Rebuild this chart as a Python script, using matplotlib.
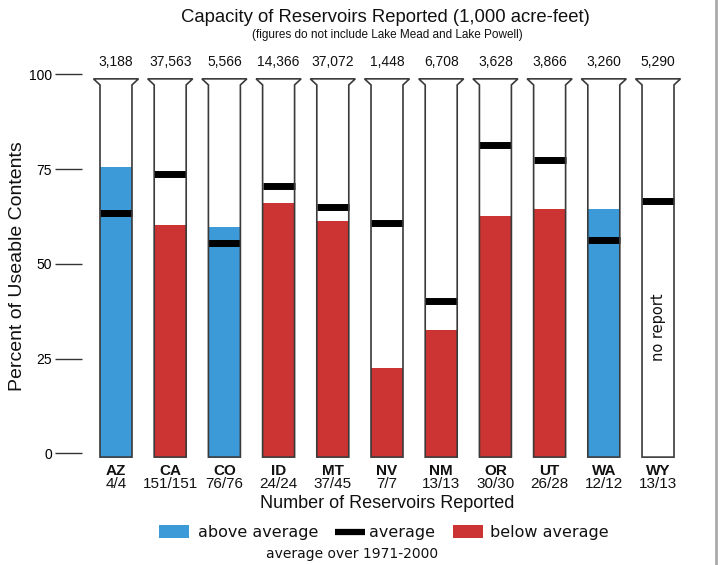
import matplotlib
matplotlib.use('Agg')
import matplotlib.pyplot as plt
from matplotlib.patches import Polygon, Rectangle
from matplotlib.lines import Line2D

# ---- data ----
states = ['AZ', 'CA', 'CO', 'ID', 'MT', 'NV', 'NM', 'OR', 'UT', 'WA', 'WY']
reservoirs = ['4/4', '151/151', '76/76', '24/24', '37/45', '7/7', '13/13',
              '30/30', '26/28', '12/12', '13/13']
capacity = ['3,188', '37,563', '5,566', '14,366', '37,072', '1,448', '6,708',
            '3,628', '3,866', '3,260', '5,290']
percent_full = [75.5, 60.2, 59.7, 66.0, 61.3, 22.6, 32.6, 62.6, 64.5, 64.5, None]
percent_avg = [63.3, 73.6, 55.4, 70.4, 64.9, 60.7, 40.1, 81.3, 77.3, 56.2, 66.5]
yticks = [0, 25, 50, 75, 100]

BLUE = '#3d9ad9'
RED = '#cc3333'
EDGE = '#3a3a3a'
SANS = ['Liberation Sans', 'DejaVu Sans']

W, H = 720, 565
fig = plt.figure(figsize=(7.2, 5.65), dpi=100)
ax_l, ax_r, ax_t, ax_b = 82, 692, 74.3, 460.9
ax = fig.add_axes([ax_l / W, 1 - ax_b / H, (ax_r - ax_l) / W, (ax_b - ax_t) / H])
ax.set_ylim(-2, 100)
ax.set_xlim(-0.627, 10.627)

bw = 0.59      # bar width
tw = 0.83      # funnel top width
for i, st in enumerate(states):
    pct = percent_full[i]
    avg = percent_avg[i]
    if pct is not None:
        col = BLUE if pct >= avg else RED
        ax.add_patch(Rectangle((i - bw / 2, -1), bw, pct + 1, facecolor=col,
                               edgecolor='none', zorder=2, clip_on=False))
    ax.plot([i - bw / 2, i + bw / 2], [avg, avg], color='black', lw=5.0,
            solid_capstyle='butt', zorder=3)
    outline = [(i - bw / 2, -1), (i - bw / 2, 97.2), (i - tw / 2, 98.8),
               (i + tw / 2, 98.8), (i + bw / 2, 97.2), (i + bw / 2, -1)]
    ax.add_patch(Polygon(outline, closed=True, fill=False, edgecolor=EDGE,
                         lw=1.2, zorder=4, clip_on=False))
    ax.text(i, 103.2, capacity[i], ha='center', va='center', fontsize=10,
            family=SANS, color='#111111', clip_on=False)
    ax.text(i, -4.7, st, ha='center', va='center', fontsize=11,
            fontweight='bold', family=SANS, color='#111111', clip_on=False)
    ax.text(i, -8.2, reservoirs[i], ha='center', va='center', fontsize=11,
            family=SANS, color='#111111', clip_on=False)
    if pct is None:
        ax.text(i, 33.3, 'no report', rotation=90, ha='center', va='center',
                fontsize=10.5, family=['DejaVu Sans'], color='#111111')

for s in ax.spines.values():
    s.set_visible(False)
ax.set_xticks([])
ax.set_yticks(yticks)
ax.set_yticklabels([str(v) for v in yticks], family=SANS, fontsize=10)
ax.tick_params(axis='y', length=19.5, width=1.0, color='#333333', pad=2,
               direction='out')

# titles
fig.text(385 / W, 1 - 17 / H, 'Capacity of Reservoirs Reported (1,000 acre-feet)',
         ha='center', va='center', fontsize=13.3, family=SANS, color='#111111')
fig.text(387 / W, 1 - 35 / H, '(figures do not include Lake Mead and Lake Powell)',
         ha='center', va='center', fontsize=8.5, family=SANS, color='#111111')
fig.text(18 / W, 1 - 266 / H, 'Percent of Useable Contents', rotation=90,
         ha='center', va='center', fontsize=14, family=SANS, color='#111111')
fig.text(387 / W, 1 - 504 / H, 'Number of Reservoirs Reported',
         ha='center', va='center', fontsize=13, family=SANS, color='#111111')

# legend (drawn manually)
ly = 1 - 532 / H
fig.patches.append(Rectangle((159 / W, 1 - 538 / H), 30 / W, 13 / H,
                             transform=fig.transFigure, facecolor=BLUE,
                             edgecolor='none'))
fig.text(198 / W, ly, 'above average', ha='left', va='center', fontsize=11.5,
         family=['DejaVu Sans'], color='#111111')
fig.lines.append(Line2D([335 / W, 365 / W], [ly, ly], transform=fig.transFigure,
                        color='black', lw=4.5, solid_capstyle='butt'))
fig.text(369 / W, ly, 'average', ha='left', va='center', fontsize=11.5,
         family=['DejaVu Sans'], color='#111111')
fig.patches.append(Rectangle((453 / W, 1 - 538 / H), 30 / W, 13 / H,
                             transform=fig.transFigure, facecolor=RED,
                             edgecolor='none'))
fig.text(490 / W, ly, 'below average', ha='left', va='center', fontsize=11.5,
         family=['DejaVu Sans'], color='#111111')
fig.text(352 / W, 1 - 554 / H, 'average over 1971-2000', ha='center',
         va='center', fontsize=10, family=['DejaVu Sans'], color='#111111')

# right border
fig.lines.append(Line2D([716 / W, 716 / W], [0, 1], transform=fig.transFigure,
                        color='#aaaaaa', lw=2))

fig.savefig('out.png', dpi=100)
